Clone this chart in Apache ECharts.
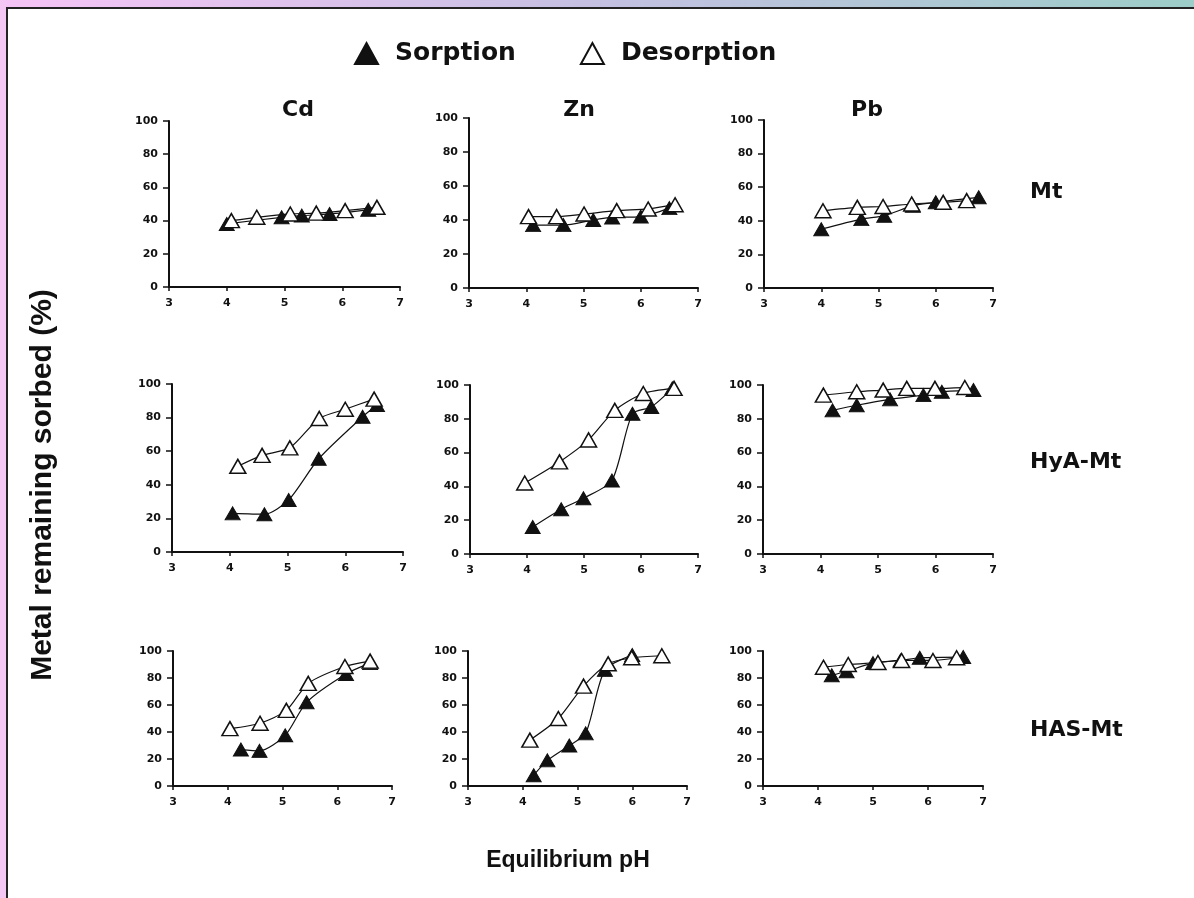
<!DOCTYPE html>
<html>
<head>
<meta charset="utf-8">
<script src="https://cdn.jsdelivr.net/npm/echarts@6.0.0/dist/echarts.min.js"></script>
<style>
  html, body { margin: 0; padding: 0; width: 1194px; height: 898px; overflow: hidden; background: #fff; }
  .topbar { position: absolute; left: 0; top: 0; width: 1194px; height: 7px;
    background: linear-gradient(to right, #f6c4f6, #c4c0e2 50%, #9ccdc8); }
  .side { position: absolute; left: 0; top: 0; width: 6px; height: 898px; background: #f4c6f4; }
  .panel { position: absolute; left: 6px; top: 7px; width: 1200px; height: 900px;
    border-left: 2px solid #222; border-top: 2px solid #222; background: #fff; }
  #main { position: absolute; left: 0; top: 0; width: 1194px; height: 898px; }
</style>
</head>
<body>
<div class="topbar"></div>
<div class="side"></div>
<div class="panel"></div>
<div id="main"></div>
<script>
// 数据：每个面板的 [pH, %] 点
var metals = ["Cd", "Zn", "Pb"];
var clays = ["Mt", "HyA-Mt", "HAS-Mt"];
var xTicks = [3, 7, 1];   // min, max, interval
var yTicks = [0, 100, 20];

var cdMtSorption = [[4.0, 38], [4.95, 42], [5.3, 43], [5.78, 44], [6.45, 46.5]];
var cdMtDesorption = [[4.08, 40], [4.52, 42], [5.1, 44], [5.55, 44.5], [6.05, 46], [6.6, 48]];
var znMtSorption = [[4.12, 37], [4.65, 37], [5.17, 40], [5.5, 41.5], [6.0, 42], [6.5, 47]];
var znMtDesorption = [[4.04, 42], [4.53, 42], [5.01, 43.5], [5.58, 45.5], [6.13, 46.5], [6.6, 49]];
var pbMtSorption = [[4.0, 35], [4.7, 41], [5.1, 43], [5.6, 49], [6.0, 51], [6.75, 54]];
var pbMtDesorption = [[4.03, 46], [4.63, 48], [5.08, 48.5], [5.58, 50], [6.13, 51], [6.54, 52]];

var cdHyaSorption = [[4.05, 23], [4.6, 22.5], [5.02, 31], [5.54, 55.5], [6.3, 80.5], [6.55, 87.5]];
var cdHyaDesorption = [[4.14, 51], [4.56, 57.5], [5.04, 62], [5.55, 79.5], [6.0, 85], [6.5, 91]];
var znHyaSorption = [[4.1, 16], [4.6, 26.5], [4.99, 33], [5.49, 43.5], [5.85, 83], [6.18, 87], [6.55, 98]];
var znHyaDesorption = [[3.96, 42], [4.57, 54.5], [5.08, 67.5], [5.54, 85], [6.04, 95], [6.58, 98]];
var pbHyaSorption = [[4.21, 85], [4.63, 88], [5.21, 91.5], [5.79, 94], [6.11, 96], [6.66, 97]];
var pbHyaDesorption = [[4.05, 94], [4.63, 96], [5.09, 97], [5.5, 98], [5.99, 98], [6.51, 98.5]];

var cdHasSorption = [[4.24, 27], [4.58, 26], [5.05, 37.5], [5.44, 62], [6.16, 83], [6.6, 91]];
var cdHasDesorption = [[4.04, 42.5], [4.59, 46.5], [5.07, 56], [5.47, 76], [6.14, 88.5], [6.6, 92.5]];
var znHasSorption = [[4.2, 8], [4.45, 19], [4.85, 30], [5.15, 39], [5.5, 86], [6.0, 97]];
var znHasDesorption = [[4.13, 34], [4.65, 50], [5.11, 74], [5.56, 90.5], [5.99, 95], [6.54, 96.5]];
var pbHasSorption = [[4.25, 82], [4.52, 85], [5.0, 91], [5.5, 93], [5.85, 95], [6.64, 95.5]];
var pbHasDesorption = [[4.1, 88], [4.55, 90], [5.09, 91.5], [5.52, 93], [6.09, 93], [6.52, 95]];

var sorption = [cdMtSorption, znMtSorption, pbMtSorption,
  cdHyaSorption, znHyaSorption, pbHyaSorption,
  cdHasSorption, znHasSorption, pbHasSorption];
var desorption = [cdMtDesorption, znMtDesorption, pbMtDesorption,
  cdHyaDesorption, znHyaDesorption, pbHyaDesorption,
  cdHasDesorption, znHasDesorption, pbHasDesorption];

(function () {
  var myChart = echarts.init(document.getElementById("main"), null, { renderer: "canvas" });
  var ink = "#111";
  var tickFont = { color: ink, fontFamily: "DejaVu Sans", fontWeight: "bold", fontSize: 11 };

  // 九个小图的位置 [left, top, width, height]
  var cells = [
    [169, 121, 231, 166], [469, 118, 229, 170], [764, 120, 229, 168],
    [172, 384, 231, 168], [470, 385, 228, 169], [763, 385, 230, 169],
    [173, 651, 219, 135], [468, 651, 219, 135], [763, 651, 220, 135]
  ];

  var grid = [], xAxis = [], yAxis = [], series = [];
  cells.forEach(function (c, i) {
    grid.push({ left: c[0], top: c[1], width: c[2], height: c[3], containLabel: false });
    xAxis.push({
      gridIndex: i, type: "value", min: xTicks[0], max: xTicks[1], interval: xTicks[2],
      axisLine: { show: true, onZero: false, lineStyle: { color: ink, width: 2 } },
      axisTick: { show: true, length: 4, lineStyle: { color: ink, width: 1.5 } },
      axisLabel: Object.assign({ margin: 11 }, tickFont),
      splitLine: { show: false }
    });
    yAxis.push({
      gridIndex: i, type: "value", min: yTicks[0], max: yTicks[1], interval: yTicks[2],
      axisLine: { show: true, onZero: false, lineStyle: { color: ink, width: 2 } },
      axisTick: { show: true, length: 6, lineStyle: { color: ink, width: 1.5 } },
      axisLabel: Object.assign({ margin: 11 }, tickFont),
      splitLine: { show: false }
    });
    series.push({
      name: "Sorption", type: "line", xAxisIndex: i, yAxisIndex: i,
      data: sorption[i], smooth: 0.25,
      symbol: "triangle", symbolSize: [15, 13],
      lineStyle: { color: ink, width: 1.2 },
      itemStyle: { color: ink, borderColor: ink, borderWidth: 1 }
    });
    series.push({
      name: "Desorption", type: "line", xAxisIndex: i, yAxisIndex: i,
      data: desorption[i], smooth: 0.25,
      symbol: "triangle", symbolSize: [16, 14],
      lineStyle: { color: ink, width: 1.2 },
      itemStyle: { color: "#fff", borderColor: ink, borderWidth: 1.5 }
    });
  });

  // 标题文字
  var graphic = [];
  var colX = [298, 579, 867];
  metals.forEach(function (m, j) {
    graphic.push({ type: "text", x: colX[j], y: 110,
      style: { text: m, font: "bold 22px 'DejaVu Sans'", fill: ink, align: "center", verticalAlign: "middle" } });
  });
  var rowY = [192, 462, 730];
  clays.forEach(function (c, j) {
    graphic.push({ type: "text", x: 1030, y: rowY[j],
      style: { text: c, font: "bold 22px 'DejaVu Sans'", fill: ink, align: "left", verticalAlign: "middle" } });
  });
  graphic.push({ type: "text", x: 43, y: 485, rotation: Math.PI / 2,
    style: { text: "Metal remaining sorbed (%)", font: "bold 30px 'Liberation Sans'", fill: ink,
      align: "center", verticalAlign: "middle" } });
  graphic.push({ type: "text", x: 568, y: 861,
    style: { text: "Equilibrium pH", font: "bold 23px 'Liberation Sans'", fill: ink,
      align: "center", verticalAlign: "middle" } });

  var option = {
    animation: false,
    backgroundColor: "transparent",
    legend: {
      data: ["Sorption", "Desorption"],
      left: 349, top: 36,
      icon: "triangle",
      itemWidth: 23, itemHeight: 21,
      itemGap: 64,
      textStyle: { color: ink, fontFamily: "DejaVu Sans", fontWeight: "bold", fontSize: 25,
        padding: [0, 0, 0, 12] }
    },
    grid: grid,
    xAxis: xAxis,
    yAxis: yAxis,
    series: series,
    graphic: graphic
  };
  myChart.setOption(option);
  window.addEventListener("resize", function () {
    myChart.resize();
  });
})();
</script>
</body>
</html>
